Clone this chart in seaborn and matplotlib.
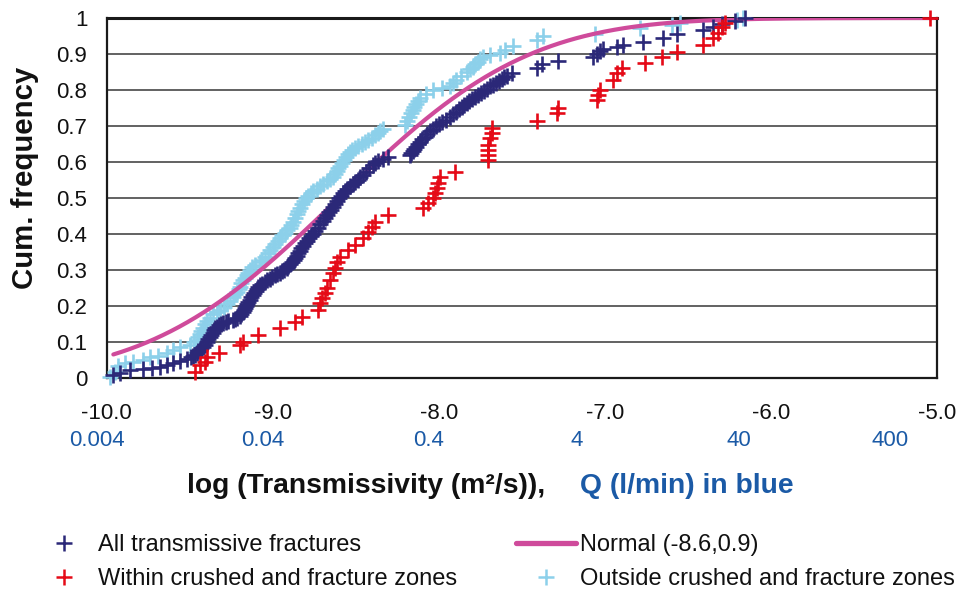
import math
import numpy as np
import pandas as pd
import matplotlib
matplotlib.use("Agg")
import matplotlib.pyplot as plt
import seaborn as sns
from matplotlib.lines import Line2D
from matplotlib.transforms import blended_transform_factory

# ---------------------------------------------------------------------------
# Data: log10 transmissivity (m2/s) and cumulative frequency per fracture set
# ---------------------------------------------------------------------------
all_logT = [
    -9.962, -9.920, -9.860, -9.781, -9.727, -9.679, -9.637, -9.601, -9.558, -9.516,
    -9.492, -9.480, -9.468, -9.456, -9.447, -9.438, -9.429, -9.420, -9.408, -9.396,
    -9.387, -9.378, -9.369, -9.360, -9.354, -9.348, -9.335, -9.323, -9.311, -9.299,
    -9.284, -9.269, -9.239, -9.227, -9.215, -9.197, -9.188, -9.179, -9.173, -9.167,
    -9.161, -9.155, -9.146, -9.137, -9.128, -9.119, -9.110, -9.101, -9.095, -9.089,
    -9.076, -9.064, -9.049, -9.034, -9.019, -9.004, -8.989, -8.974, -8.959, -8.944,
    -8.929, -8.914, -8.905, -8.896, -8.884, -8.872, -8.863, -8.854, -8.845, -8.836,
    -8.827, -8.817, -8.805, -8.793, -8.781, -8.769, -8.757, -8.745, -8.730, -8.715,
    -8.700, -8.685, -8.673, -8.661, -8.649, -8.637, -8.625, -8.613, -8.601, -8.589,
    -8.577, -8.565, -8.550, -8.534, -8.519, -8.504, -8.489, -8.474, -8.456, -8.438,
    -8.417, -8.396, -8.381, -8.366, -8.336, -8.306, -8.173, -8.164, -8.155, -8.146,
    -8.137, -8.125, -8.113, -8.098, -8.083, -8.068, -8.053, -8.035, -8.017, -7.998,
    -7.980, -7.956, -7.932, -7.914, -7.896, -7.878, -7.860, -7.845, -7.830, -7.815,
    -7.801, -7.783, -7.765, -7.747, -7.729, -7.711, -7.693, -7.675, -7.657, -7.639,
    -7.621, -7.605, -7.589, -7.559, -7.408, -7.378, -7.282, -7.071, -7.047, -7.029,
    -7.011, -6.926, -6.890, -6.770, -6.649, -6.565, -6.408, -6.348, -6.294, -6.215,
    -6.155,
]
all_cum = [
    0.008, 0.014, 0.022, 0.025, 0.028, 0.031, 0.036, 0.042, 0.047, 0.053,
    0.058, 0.061, 0.065, 0.069, 0.074, 0.078, 0.082, 0.086, 0.093, 0.100,
    0.107, 0.114, 0.119, 0.125, 0.132, 0.139, 0.143, 0.147, 0.150, 0.153,
    0.156, 0.158, 0.161, 0.164, 0.167, 0.172, 0.178, 0.183, 0.189, 0.194,
    0.200, 0.206, 0.211, 0.217, 0.224, 0.231, 0.236, 0.242, 0.247, 0.253,
    0.258, 0.261, 0.267, 0.272, 0.276, 0.281, 0.285, 0.289, 0.293, 0.297,
    0.301, 0.306, 0.311, 0.317, 0.322, 0.328, 0.333, 0.339, 0.346, 0.353,
    0.360, 0.367, 0.374, 0.381, 0.388, 0.394, 0.401, 0.408, 0.418, 0.428,
    0.436, 0.444, 0.453, 0.461, 0.468, 0.475, 0.483, 0.492, 0.499, 0.506,
    0.513, 0.519, 0.526, 0.533, 0.539, 0.544, 0.551, 0.558, 0.565, 0.572,
    0.582, 0.592, 0.597, 0.603, 0.608, 0.614, 0.619, 0.625, 0.631, 0.636,
    0.642, 0.649, 0.656, 0.663, 0.669, 0.678, 0.686, 0.693, 0.700, 0.706,
    0.711, 0.718, 0.725, 0.732, 0.739, 0.746, 0.753, 0.758, 0.764, 0.769,
    0.775, 0.781, 0.786, 0.792, 0.797, 0.804, 0.811, 0.815, 0.819, 0.825,
    0.831, 0.835, 0.839, 0.847, 0.861, 0.872, 0.881, 0.892, 0.900, 0.908,
    0.914, 0.919, 0.925, 0.933, 0.944, 0.956, 0.967, 0.975, 0.983, 0.992,
    1.000,
]

within_logT = [
    -9.468, -9.438, -9.408, -9.396, -9.323, -9.197, -9.179, -9.089, -8.956, -8.866,
    -8.824, -8.727, -8.715, -8.703, -8.685, -8.673, -8.655, -8.637, -8.625, -8.613,
    -8.595, -8.546, -8.504, -8.456, -8.426, -8.402, -8.384, -8.306, -8.095, -8.065,
    -8.035, -8.023, -8.011, -8.005, -7.992, -7.902, -7.704, -7.704, -7.704, -7.704,
    -7.692, -7.679, -7.679, -7.408, -7.288, -7.282, -7.047, -7.041, -7.029, -6.950,
    -6.926, -6.896, -6.757, -6.655, -6.565, -6.408, -6.348, -6.318, -6.294, -6.276,
    -5.041,
]
within_cum = [
    0.017, 0.036, 0.044, 0.058, 0.069, 0.092, 0.100, 0.119, 0.139, 0.156,
    0.169, 0.189, 0.208, 0.222, 0.236, 0.250, 0.272, 0.292, 0.306, 0.322,
    0.336, 0.356, 0.369, 0.389, 0.406, 0.419, 0.433, 0.453, 0.472, 0.486,
    0.500, 0.514, 0.528, 0.542, 0.558, 0.572, 0.606, 0.619, 0.633, 0.647,
    0.667, 0.681, 0.694, 0.714, 0.736, 0.750, 0.772, 0.786, 0.800, 0.828,
    0.847, 0.861, 0.875, 0.892, 0.906, 0.925, 0.944, 0.958, 0.975, 0.986,
    1.000,
]

outside_logT = [
    -9.980, -9.950, -9.932, -9.890, -9.842, -9.781, -9.739, -9.691, -9.637, -9.601,
    -9.558, -9.498, -9.474, -9.456, -9.447, -9.438, -9.429, -9.420, -9.408, -9.396,
    -9.378, -9.360, -9.338, -9.317, -9.296, -9.275, -9.257, -9.239, -9.227, -9.215,
    -9.206, -9.197, -9.188, -9.179, -9.167, -9.155, -9.146, -9.137, -9.122, -9.107,
    -9.077, -9.062, -9.047, -9.031, -9.016, -9.001, -8.986, -8.971, -8.956, -8.941,
    -8.926, -8.911, -8.896, -8.887, -8.878, -8.866, -8.854, -8.845, -8.836, -8.823,
    -8.811, -8.799, -8.787, -8.772, -8.757, -8.736, -8.715, -8.694, -8.673, -8.655,
    -8.637, -8.625, -8.613, -8.604, -8.595, -8.583, -8.571, -8.558, -8.546, -8.534,
    -8.522, -8.504, -8.486, -8.465, -8.444, -8.423, -8.402, -8.384, -8.366, -8.351,
    -8.336, -8.203, -8.191, -8.179, -8.167, -8.155, -8.146, -8.137, -8.125, -8.113,
    -8.077, -8.035, -7.980, -7.932, -7.914, -7.896, -7.866, -7.830, -7.812, -7.795,
    -7.780, -7.765, -7.749, -7.733, -7.693, -7.633, -7.602, -7.554, -7.408, -7.372,
    -7.059, -6.788, -6.595, -6.546, -6.203, -6.167,
]
outside_cum = [
    0.003, 0.017, 0.033, 0.042, 0.044, 0.050, 0.058, 0.061, 0.069, 0.078,
    0.086, 0.092, 0.099, 0.106, 0.114, 0.122, 0.131, 0.139, 0.149, 0.158,
    0.168, 0.178, 0.183, 0.189, 0.197, 0.206, 0.215, 0.225, 0.232, 0.239,
    0.246, 0.253, 0.263, 0.272, 0.279, 0.286, 0.293, 0.300, 0.307, 0.314,
    0.322, 0.329, 0.336, 0.346, 0.356, 0.364, 0.372, 0.381, 0.389, 0.396,
    0.403, 0.410, 0.417, 0.425, 0.433, 0.444, 0.456, 0.464, 0.472, 0.482,
    0.492, 0.499, 0.506, 0.513, 0.519, 0.526, 0.533, 0.540, 0.547, 0.553,
    0.558, 0.567, 0.575, 0.582, 0.589, 0.597, 0.606, 0.614, 0.622, 0.628,
    0.633, 0.639, 0.644, 0.650, 0.656, 0.661, 0.667, 0.674, 0.681, 0.686,
    0.692, 0.703, 0.714, 0.725, 0.735, 0.744, 0.753, 0.761, 0.769, 0.778,
    0.789, 0.800, 0.806, 0.811, 0.819, 0.828, 0.839, 0.850, 0.857, 0.864,
    0.871, 0.878, 0.885, 0.892, 0.897, 0.903, 0.911, 0.922, 0.939, 0.950,
    0.956, 0.972, 0.981, 0.986, 0.994, 1.000,
]

# Fitted normal distribution of log T
normal_mean = -8.6
normal_sd = 0.9
normal_span = (-9.96, -5.02)

series_labels = [
    "All transmissive fractures",
    "Within crushed and fracture zones",
    "Outside crushed and fracture zones",
]
normal_label = "Normal (-8.6,0.9)"

x_ticks = [-10, -9, -8, -7, -6, -5]
x_tick_labels = ["-10.0", "-9.0", "-8.0", "-7.0", "-6.0", "-5.0"]
q_tick_labels = ["0.004", "0.04", "0.4", "4", "40", "400"]
y_ticks = [0.0, 0.1, 0.2, 0.3, 0.4, 0.5, 0.6, 0.7, 0.8, 0.9, 1.0]
y_tick_labels = ["0", "0.1", "0.2", "0.3", "0.4", "0.5", "0.6", "0.7", "0.8", "0.9", "1"]

# ---------------------------------------------------------------------------
# Styling
# ---------------------------------------------------------------------------
NAVY = "#2B2878"
RED = "#E50A17"
LIGHT_BLUE = "#8CD0EA"
PINK = "#CF4B9B"
Q_BLUE = "#1B5AA6"

sns.set_theme(style="white")
plt.rcParams["font.family"] = ["Liberation Sans", "DejaVu Sans"]

W, H = 962, 590
fig = plt.figure(figsize=(W / 100, H / 100), dpi=100)
ax_left, ax_right, ax_top, ax_bottom = 106.7, 936.7, 18.0, 378.0
ax = fig.add_axes([ax_left / W, 1 - ax_bottom / H,
                   (ax_right - ax_left) / W, (ax_bottom - ax_top) / H])

frames = {
    "all": pd.DataFrame({"logT": all_logT, "cum": all_cum}),
    "within": pd.DataFrame({"logT": within_logT, "cum": within_cum}),
    "outside": pd.DataFrame({"logT": outside_logT, "cum": outside_cum}),
}

xs = np.linspace(normal_span[0], normal_span[1], 400)
cdf = np.array([0.5 * (1 + math.erf((v - normal_mean) / (normal_sd * math.sqrt(2)))) for v in xs])
normal_df = pd.DataFrame({"logT": xs, "cum": cdf})

marker_kw = dict(marker="+", s=118, linewidth=1.9, clip_on=False, legend=False)

sns.scatterplot(data=frames["outside"], x="logT", y="cum", color=LIGHT_BLUE,
                zorder=3, ax=ax, **marker_kw)
sns.lineplot(data=normal_df, x="logT", y="cum", color=PINK, linewidth=3.0,
             zorder=4, ax=ax, legend=False)
sns.scatterplot(data=frames["all"], x="logT", y="cum", color=NAVY,
                zorder=5, ax=ax, **marker_kw)
sns.scatterplot(data=frames["within"], x="logT", y="cum", color=RED,
                zorder=6, ax=ax, **marker_kw)

ax.set_xlim(-10, -5)
ax.set_ylim(0, 1)
ax.set_xlabel("")
ax.set_ylabel("")

ax.set_yticks(y_ticks)
ax.set_yticklabels(y_tick_labels, fontsize=16, color="#111111")
ax.set_xticks(x_ticks)
ax.set_xticklabels(x_tick_labels, fontsize=16, color="#111111")
ax.tick_params(axis="y", length=0, pad=14)
ax.tick_params(axis="x", length=6, width=1.2, color="#222222", direction="out", pad=12)

ax.yaxis.grid(True, color="#555555", linewidth=1.3)
ax.xaxis.grid(False)
ax.set_axisbelow(True)
for side, sp in ax.spines.items():
    sp.set_visible(True)
    sp.set_color("#1a1a1a")
    sp.set_linewidth(1.6)
ax.spines["top"].set_linewidth(2.2)

# Discharge scale written under the log T ticks
q_positions = [-10.06, -9.06, -8.06, -7.17, -6.19, -5.28]
trans = blended_transform_factory(ax.transData, ax.transAxes)
for pos, lab in zip(q_positions, q_tick_labels):
    ax.text(pos, (ax_bottom - 440) / (ax_bottom - ax_top), lab, transform=trans,
            ha="center", va="center", fontsize=16, color=Q_BLUE, clip_on=False)

# Axis titles
fig.text(25 / W, 1 - 178 / H, "Cum. frequency", rotation=90, ha="center", va="center",
         fontsize=21.2, fontweight="bold", color="#111111")
fig.text(545 / W, 1 - 486 / H, "log (Transmissivity (m\u00b2/s)),", ha="right", va="center",
         fontsize=20.3, fontweight="bold", color="#111111")
fig.text(580 / W, 1 - 486 / H, "Q (l/min) in blue", ha="left", va="center",
         fontsize=20.3, fontweight="bold", color=Q_BLUE)

# Legend (two columns)
handles = [
    Line2D([], [], ls="none", marker="+", markersize=11, markeredgewidth=1.8, color=NAVY),
    Line2D([], [], ls="none", marker="+", markersize=11, markeredgewidth=1.8, color=RED),
    Line2D([], [], color=PINK, linewidth=3.8),
    Line2D([], [], ls="none", marker="+", markersize=11, markeredgewidth=1.8, color=LIGHT_BLUE),
]
labels = [series_labels[0], series_labels[1], normal_label, series_labels[2]]
fig.legend(handles, labels, ncol=2, loc="upper left",
           bbox_to_anchor=(34 / W, 1 - 534 / H), frameon=False,
           fontsize=17, handlelength=2.55, handletextpad=0.15,
           columnspacing=2.5, labelspacing=0.51, borderpad=0, borderaxespad=0,
           labelcolor="#111111")

fig.savefig("out.png", dpi=100)
